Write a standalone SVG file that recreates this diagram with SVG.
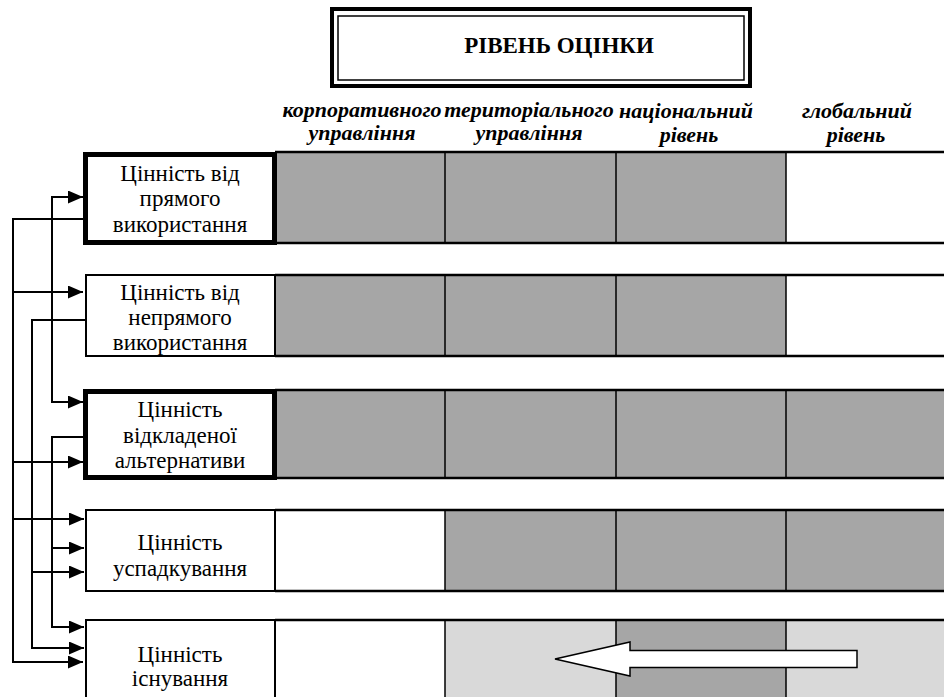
<svg xmlns="http://www.w3.org/2000/svg" width="944" height="697" viewBox="0 0 944 697">
<style>
.lbl{font-family:"Liberation Serif","DejaVu Serif",serif;font-size:23px;fill:#000;text-anchor:middle}
.hdr{font-family:"Liberation Serif","DejaVu Serif",serif;font-size:22px;font-weight:bold;font-style:italic;fill:#000;text-anchor:middle}
.ttl{font-family:"Liberation Serif","DejaVu Serif",serif;font-size:23px;font-weight:bold;fill:#000;text-anchor:middle}
.thick{fill:#fff;stroke:#000;stroke-width:5}
.thin{fill:#fff;stroke:#000;stroke-width:2}
.dk{fill:#a6a6a6}
.lt{fill:#d9d9d9}
.hl{stroke:#000;stroke-width:2.5;fill:none}
.vl{stroke:#000;stroke-width:1.5;fill:none}
.con{stroke:#000;stroke-width:2;fill:none}
</style>
<defs>
<marker id="ah" viewBox="0 0 15 13" refX="15" refY="6.5" markerWidth="15" markerHeight="13" markerUnits="userSpaceOnUse" orient="auto-start-reverse">
<path d="M0,0 L15,6.5 L0,13 Z" fill="#000"/>
</marker>
</defs>
<rect width="944" height="697" fill="#fff"/>

<g id="title">
<rect x="332" y="9" width="418" height="77" fill="#fff" stroke="#000" stroke-width="4"/>
<rect x="338" y="16" width="406" height="64" fill="none" stroke="#000" stroke-width="1.5"/>
<text class="ttl" x="559" y="53">РІВЕНЬ ОЦІНКИ</text>
</g>

<g id="headers">
<text class="hdr" x="362" y="117">корпоративного</text>
<text class="hdr" x="362" y="140">управління</text>
<text class="hdr" x="529" y="117">територіального</text>
<text class="hdr" x="529" y="140">управління</text>
<text class="hdr" x="686" y="118">національний</text>
<text class="hdr" x="689" y="142">рівень</text>
<text class="hdr" x="857" y="118">глобальний</text>
<text class="hdr" x="856" y="142">рівень</text>
</g>

<g id="row1">
<rect class="dk" x="275" y="152" width="170" height="91"/>
<rect class="dk" x="445" y="152" width="171" height="91"/>
<rect class="dk" x="616" y="152" width="170" height="91"/>
<path class="hl" d="M275,152 H944 M275,243 H944"/>
<path class="vl" d="M445,152 V243 M616,152 V243 M786,152 V243"/>
<rect class="thick" x="85.5" y="154.5" width="189" height="88"/>
<text class="lbl" x="180" y="181">Цінність від</text>
<text class="lbl" x="180" y="206">прямого</text>
<text class="lbl" x="180" y="232">використання</text>
</g>

<g id="row2">
<rect class="dk" x="275" y="275" width="170" height="81"/>
<rect class="dk" x="445" y="275" width="171" height="81"/>
<rect class="dk" x="616" y="275" width="170" height="81"/>
<path class="hl" d="M275,275 H944 M275,356 H944"/>
<path class="vl" d="M445,275 V356 M616,275 V356 M786,275 V356"/>
<rect class="thin" x="86" y="275" width="189" height="81"/>
<text class="lbl" x="180" y="300">Цінність від</text>
<text class="lbl" x="180" y="325">непрямого</text>
<text class="lbl" x="180" y="350">використання</text>
</g>

<g id="row3">
<rect class="dk" x="275" y="390" width="669" height="88"/>
<path class="hl" d="M275,390 H944 M275,478 H944"/>
<path class="vl" d="M445,390 V478 M616,390 V478 M786,390 V478"/>
<rect class="thick" x="85.5" y="391.5" width="189" height="86"/>
<text class="lbl" x="180" y="417">Цінність</text>
<text class="lbl" x="180" y="443">відкладеної</text>
<text class="lbl" x="180" y="468">альтернативи</text>
</g>

<g id="row4">
<rect class="dk" x="445" y="510" width="499" height="81"/>
<path class="hl" d="M275,510 H944 M275,591 H944"/>
<path class="vl" d="M445,510 V591 M616,510 V591 M786,510 V591"/>
<rect class="thin" x="86" y="510" width="189" height="81"/>
<text class="lbl" x="180" y="550">Цінність</text>
<text class="lbl" x="180" y="576">успадкування</text>
</g>

<g id="row5">
<rect class="lt" x="445" y="620" width="171" height="80"/>
<rect class="dk" x="616" y="620" width="170" height="80"/>
<rect class="lt" x="786" y="620" width="158" height="80"/>
<path class="hl" d="M275,620 H944"/>
<path class="vl" d="M445,620 V700 M616,620 V700 M786,620 V700"/>
<rect class="thin" x="86" y="620" width="189" height="90"/>
<text class="lbl" x="180" y="662">Цінність</text>
<text class="lbl" x="180" y="686">існування</text>
<polygon points="555,659 630,642 630,650.5 857,650.5 857,667.5 630,667.5 630,676" fill="#fff" stroke="#000" stroke-width="1.5"/>
</g>

<g id="connectors">
<path class="con" d="M84,219 H13 V662 H83" marker-end="url(#ah)"/>
<path class="con" d="M13,292 H83" marker-end="url(#ah)"/>
<path class="con" d="M13,462 H83" marker-end="url(#ah)"/>
<path class="con" d="M13,519 H84" marker-end="url(#ah)"/>
<path class="con" d="M86,320 H32 V648 H84" marker-end="url(#ah)"/>
<path class="con" d="M32,572 H84" marker-end="url(#ah)"/>
<path class="con" d="M83,197 H52 V402 H83" marker-start="url(#ah)" marker-end="url(#ah)"/>
<path class="con" d="M84,437 H52 V627 H84" marker-end="url(#ah)"/>
<path class="con" d="M52,548 H84" marker-end="url(#ah)"/>
</g>
</svg>
